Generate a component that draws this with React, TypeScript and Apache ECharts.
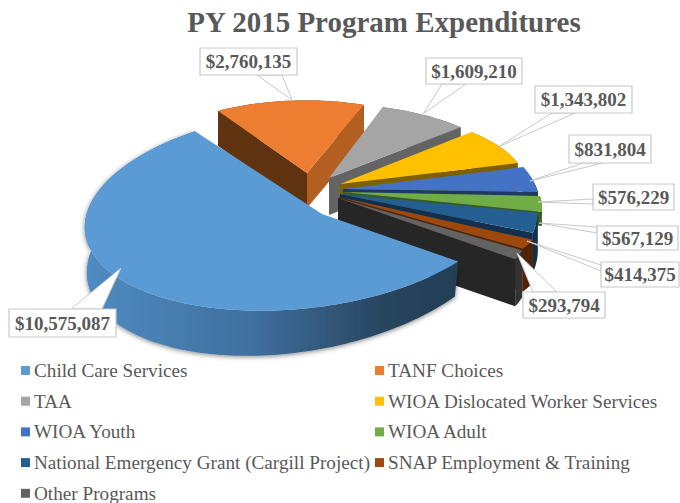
import React, { useEffect, useRef } from "react";
import * as echarts from "echarts";

const categories = ["Child Care Services", "TANF Choices", "TAA", "WIOA Dislocated Worker Services", "WIOA Youth", "WIOA Adult", "National Emergency Grant (Cargill Project)", "SNAP Employment & Training", "Other Programs"];
const values = [10575087, 2760135, 1609210, 1343802, 831804, 576229, 567129, 414375, 293794];
const topColors = ["#5B9BD5", "#ED7D31", "#A5A5A5", "#FFC000", "#4472C4", "#70AD47", "#255E91", "#9E480E", "#636363"];
const endWallColors = [null, "#B35F22", "#636363", "#7F6000", "#1F3864", "#3A5A24", "#12304D", "#4F2407", "#262626"];
const startWallColors = [null, "#5F3210", null, null, null, null, null, null, null];
const outerColors = ["#2A4560", "#5F3210", "#636363", "#7F6000", "#1F3864", "#3A5A24", "#12304D", "#4F2407", "#333333"];

const START_ANGLE = 37.6;
// exploded-slice projection: apex, ellipse centre, conjugate axes, wall drop
const apex = [[322, 214], [307, 173], [329, 178], [340, 184], [343, 189], [343, 192], [340, 194], [339, 197], [338, 198]];
const centres = [[297, 210], [305.4, 171], [318, 168], [286, 181], [346.6, 188], [338.5, 192.3], [334, 187], [341, 209], [325, 191]];
const axesU = [[212, -12], [166, 0], [183, 0], [238, 0], [190, 0], [200, 0], [200, 0], [200, 0], [200, 0]];
const axesV = [[-11, 100], [0, 70.6], [0, 65], [0, 78], [36.7, 91], [38, 85], [40, 112], [23, 75], [52, 112]];
const drops = [36, 35, 37, 38, 30, 14, 40, 43, 47];
const blueBottom = { c: [296, 247], u: [209, -20], v: [-11, 107] };

const labelBoxes = [
  [9, 309, 107, 28], [200, 48, 97, 27], [426, 58, 96, 26], [535, 86, 97, 27], [569, 135, 82, 28],
  [593, 184, 81, 26], [597, 226, 81, 24], [601, 262, 78, 25], [523, 292, 82, 26],
];
const calloutBases = [
  [[71, 309], [102, 309]], [[257, 75], [282, 75]], [[442, 84], [466, 84]], [[552, 113], [575, 113]], [[583, 163], [603, 163]],
  [[593, 199], [593, 204]], [[597, 227], [597, 233]], [[601, 265], [601, 271]], [[533, 292], [557, 292]],
];
const calloutTips = [[121, 268], [292, 100], [423, 114], [498, 147], [530, 181], [538, 202], [539, 223], [527, 241], [517, 253]];
const paintOrder = [9, 1, 2, 3, 4, 5, 6, 7, 8];
const leftLegend = [0, 2, 4, 6, 8];
const rightLegend = [1, 3, 5, 7];

const rad = (d: number) => (d * Math.PI) / 180;
const total = values.reduce((a, b) => a + b, 0);
const money = (v: number) => "$" + v.toLocaleString("en-US");

function ellipsePoint(c: number[], u: number[], v: number[], deg: number, dy = 0) {
  const t = rad(deg);
  return [c[0] + u[0] * Math.cos(t) + v[0] * Math.sin(t), c[1] + u[1] * Math.cos(t) + v[1] * Math.sin(t) + dy];
}
function arc(c: number[], u: number[], v: number[], a: number, b: number, dy = 0) {
  const n = Math.max(2, Math.ceil(Math.abs(b - a) / 1.5));
  const out: number[][] = [];
  for (let i = 0; i <= n; i++) out.push(ellipsePoint(c, u, v, a + ((b - a) * i) / n, dy));
  return out;
}

function sliceElements(i: number) {
  let cum = 0;
  for (let k = 0; k < i; k++) cum += values[k];
  const a = START_ANGLE + (cum / total) * 360;
  const b = a + (values[i] / total) * 360;
  const A = apex[i], c = centres[i], u = axesU[i], v = axesV[i], h = drops[i];
  const top = arc(c, u, v, a, b);
  const bottom = i === 0 ? arc(blueBottom.c, blueBottom.u, blueBottom.v, a, b) : arc(c, u, v, a, b, h);
  const kids: any[] = [];
  const poly = (points: number[][], fill: any, extra: any = {}) => ({
    type: "polygon",
    shape: { points },
    style: { fill, stroke: "none", ...extra },
  });
  const outerFill = i === 0
    ? new echarts.graphic.LinearGradient(0, 0, 1, 0, [
        { offset: 0, color: "#4F8CC2" },
        { offset: 0.45, color: "#3F6F9E" },
        { offset: 0.8, color: "#28455F" },
        { offset: 1, color: "#223E56" },
      ])
    : outerColors[i];
  const shadow = i === 0 ? { shadowBlur: 5, shadowColor: "rgba(0,0,0,0.5)", shadowOffsetY: 1 } : {};
  kids.push(poly([...top, ...bottom.slice().reverse()], outerFill, shadow));
  const startWall = startWallColors[i];
  if (startWall) kids.push(poly([A, top[0], [top[0][0], top[0][1] + h], [A[0], A[1] + h]], startWall));
  const endWall = endWallColors[i];
  const tip = top[top.length - 1];
  if (endWall) kids.push(poly([A, tip, [tip[0], tip[1] + h], [A[0], A[1] + h]], endWall));
  kids.push(poly([A, ...top], topColors[i]));
  return { type: "group", children: kids };
}

function calloutGraphics() {
  const out: any[] = [];
  values.forEach((val, i) => {
    const [x, y, w, hh] = labelBoxes[i];
    out.push({
      type: "polygon", z: 100,
      shape: { points: [calloutBases[i][0], calloutTips[i], calloutBases[i][1]] },
      style: { fill: "#fff", stroke: "#C8C8C8", lineWidth: 1 },
    });
    out.push({
      type: "rect", z: 101,
      shape: { x, y, width: w, height: hh },
      style: { fill: "#fff", stroke: "#C8C8C8", lineWidth: 1.2 },
    });
    out.push({
      type: "text", z: 102, x: x + w / 2, y: y + hh / 2,
      style: { text: money(val), fill: "#595959", font: 'bold 19px "Liberation Serif"', textAlign: "center", textVerticalAlign: "middle" },
    });
  });
  return out;
}

const legendBase = {
  orient: "vertical" as const,
  top: 361,
  height: 200,
  itemWidth: 9,
  itemHeight: 9,
  icon: "rect",
  itemGap: 11.7,
  padding: 0,
  selectedMode: false,
  textStyle: { fontFamily: "Liberation Serif", fontSize: 19.2, color: "#595959", lineHeight: 18, padding: [0, 0, 0, -1] },
};

export default function App() {
  const ref = useRef<HTMLDivElement>(null);
  useEffect(() => {
    const chart = echarts.init(ref.current!, undefined, { renderer: "svg" });
    chart.setOption({
      animation: false,
      backgroundColor: "#fff",
      title: {
        text: "PY 2015 Program Expenditures",
        left: 379,
        top: 2,
        textAlign: "center",
        textStyle: { fontFamily: "Liberation Serif", fontWeight: "bold", fontSize: 29, color: "#595959" },
      },
      legend: [
        { ...legendBase, left: 21, data: leftLegend.map((i) => categories[i]) },
        { ...legendBase, left: 375, data: rightLegend.map((i) => categories[i]) },
      ],
      series: categories.map((name, i) => ({
        type: "custom",
        name,
        coordinateSystem: "none",
        z: paintOrder[i],
        silent: true,
        itemStyle: { color: topColors[i] },
        data: [values[i]],
        renderItem: () => sliceElements(i),
      })),
      graphic: calloutGraphics(),
    });
    return () => chart.dispose();
  }, []);
  return <div ref={ref} style={{ position: "absolute", left: 0, top: 0, width: 680, height: 503 }} />;
}
